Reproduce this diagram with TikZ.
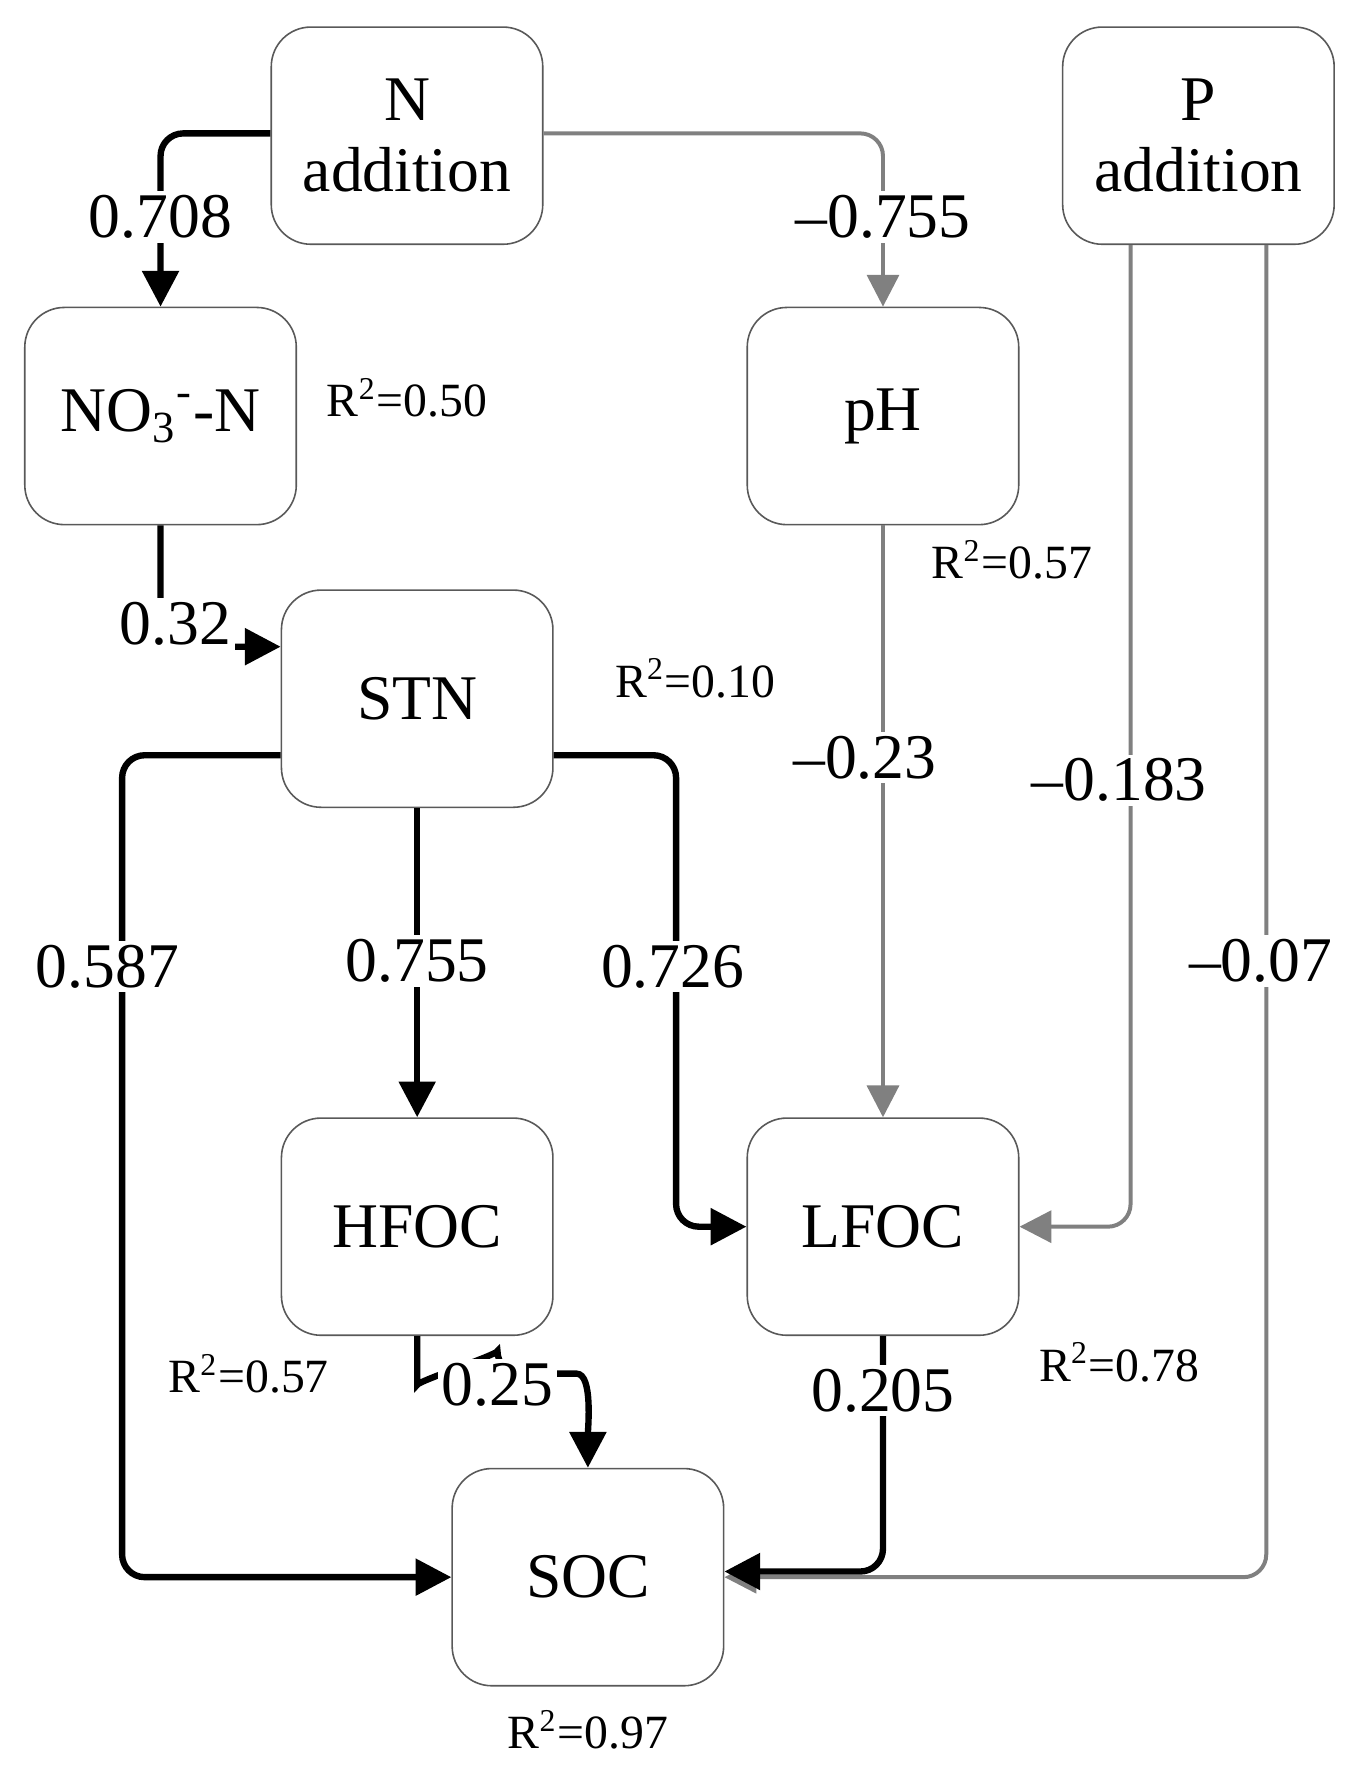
\documentclass[tikz,border=0pt]{standalone}
\usepackage{fontspec}
\setmainfont{Liberation Serif}
\usetikzlibrary{arrows.meta}
\begin{document}
\begin{tikzpicture}[x=0.01cm,y=-0.01cm,
    box/.style = {draw=gray!70!black, rounded corners=0.35cm, minimum width=2.4cm, minimum height=1.92cm, align=center, font=\fontsize{16}{18}\selectfont},
    posarr/.style = {line width=1.6pt, black, -{Triangle[length=9pt,width=9pt]}, rounded corners=0.2cm},
    negarr/.style = {line width=1pt, gray, -{Triangle[length=8pt,width=8pt]}, rounded corners=0.2cm},
    lab/.style = {fill=white, inner sep=1pt, font=\fontsize{16}{18}\selectfont},
    rsq/.style = {font=\fontsize{12}{14}\selectfont}]
        \useasboundingbox (0,0) rectangle (1200,1570);
        \node[box] (N) at (360,120) {N\\addition};
        \node[box] (P) at (1060,120) {P\\addition};
        \node[box] (no3) at (142,368) {NO\textsubscript{3}\textsuperscript{-}-N};
        \node[box] (ph) at (781,368) {pH};
        \node[box] (stn) at (369,618) {STN};
        \node[box] (hfoc) at (369,1085) {HFOC};
        \node[box] (lfoc) at (781,1085) {LFOC};
        \node[box] (soc) at (520,1395) {SOC};
        % R squared
        \node[rsq] (r1) at (360,352) {R\textsuperscript{2}=0.50};
        \node[rsq] (r2) at (895,495) {R\textsuperscript{2}=0.57};
        \node[rsq] (r3) at (615,600) {R\textsuperscript{2}=0.10};
        \node[rsq] (r4) at (220,1215) {R\textsuperscript{2}=0.57};
        \node[rsq] (r5) at (990,1205) {R\textsuperscript{2}=0.78};
        \node[rsq] (r6) at (520,1530) {R\textsuperscript{2}=0.97};
        % paths
        \draw[posarr] (N.west |- 0,118) -| (no3.north);
        \draw[negarr] (N.east |- 0,118) -| (ph.north);
        \draw[posarr] (no3.south) |- (stn.west |- 0,572);
        \draw[negarr] (ph.south) -- (lfoc.north);
        \draw[negarr] (P.south -| 1000,0) |- (lfoc.east);
        \draw[negarr] (P.south -| 1120,0) |- (soc.east);
        \draw[posarr] (stn.west |- 0,668) -| (108,1395) -- (soc.west);
        \draw[posarr] (stn.south) -- (hfoc.north);
        \draw[posarr] (stn.east |- 0,668) -| (598,1085) -- (lfoc.west);
        \draw[posarr] (hfoc.south) -- (369,1205) to[out=-90,in=90,looseness=0.6] (440,1215) -- (490,1215) to[out=0,in=90] (soc.north);
        \draw[posarr] (lfoc.south) |- (soc.east |- 0,1390);
        % coefficients
        \node[lab] (c1) at (142,192) {0.708};
        \node[lab] (c2) at (781,192) {--0.755};
        \node[lab] (c3) at (155,552) {0.32};
        \node[lab] (c4) at (765,670) {--0.23};
        \node[lab] (c5) at (990,690) {--0.183};
        \node[lab] (c6) at (1115,850) {--0.07};
        \node[lab] (c7) at (95,855) {0.587};
        \node[lab] (c8) at (369,850) {0.755};
        \node[lab] (c9) at (595,855) {0.726};
        \node[lab] (c10) at (440,1225) {0.25};
        \node[lab] (c11) at (781,1230) {0.205};
\end{tikzpicture}
\end{document}
